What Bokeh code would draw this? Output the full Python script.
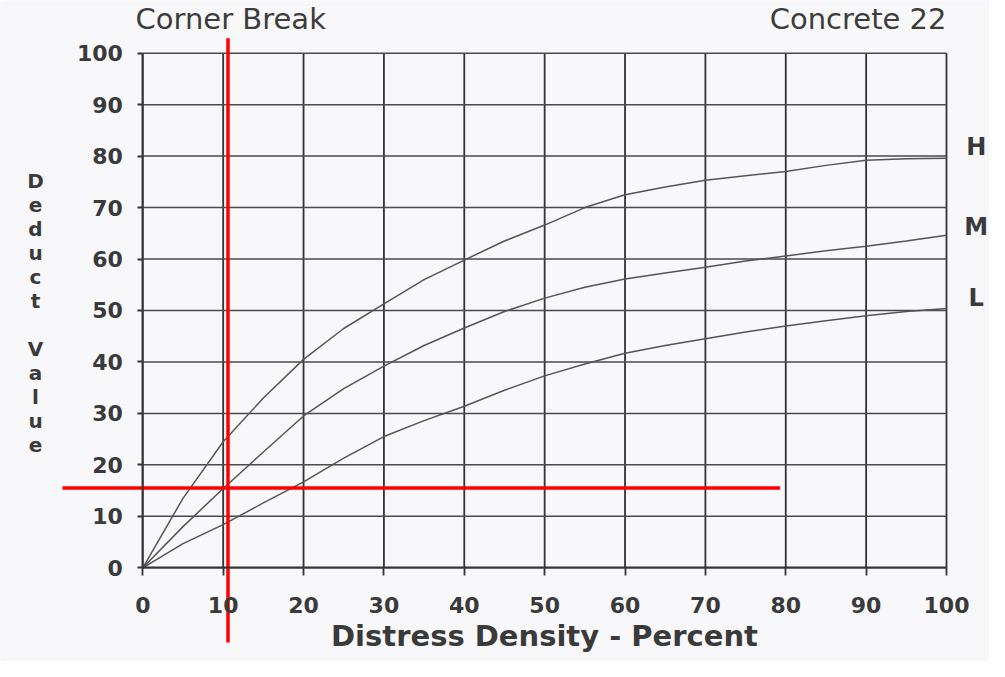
from bokeh.plotting import figure
from bokeh.models import Range1d, LinearAxis, FixedTicker, Label
from bokeh.embed import file_html
from bokeh.resources import INLINE

# ---- data ----
density = [0, 5, 10, 15, 20, 25, 30, 35, 40, 45, 50, 55, 60, 65, 70, 75, 80, 85, 90, 95, 100]
deduct_H = [0, 13.5, 24.5, 33, 40.5, 46.5, 51.3, 56, 59.8, 63.5, 66.6, 70, 72.5, 74, 75.3, 76.2, 77, 78.2, 79.2, 79.5, 79.6]
deduct_M = [0, 8, 15.4, 22.5, 29.5, 34.8, 39.2, 43.2, 46.6, 49.8, 52.4, 54.5, 56.1, 57.3, 58.4, 59.6, 60.6, 61.6, 62.5, 63.5, 64.6]
deduct_L = [0, 4.7, 8.4, 12.6, 16.7, 21.3, 25.5, 28.6, 31.4, 34.5, 37.3, 39.6, 41.7, 43.2, 44.5, 45.8, 47, 48, 49, 49.8, 50.4]
severity_labels = ["H", "M", "L"]
x_ticks = [0, 10, 20, 30, 40, 50, 60, 70, 80, 90, 100]
y_ticks = [0, 10, 20, 30, 40, 50, 60, 70, 80, 90, 100]
title_left = "Corner Break"
title_right = "Concrete 22"
x_label = "Distress Density - Percent"
y_label = "Deduct Value"

# reading lines (red cross-hair)
read_x = 10.6
read_y = 15.5

FONT = "DejaVu Sans"
INK = "#3a3a3a"

p = figure(width=989, height=661, output_backend="svg", toolbar_location=None,
           x_range=Range1d(-17.706, 105.35), y_range=Range1d(-18.21, 110.24),
           x_axis_type=None, y_axis_type=None, title=None, min_border=0)
p.outline_line_color = None
p.background_fill_color = "#f8f8fa"
p.border_fill_color = "#f8f8fa"

x_lo, x_hi = x_ticks[0], x_ticks[-1]
y_lo, y_hi = y_ticks[0], y_ticks[-1]

# grid lines limited to the chart box
p.segment(x0=x_ticks, y0=[y_lo] * len(x_ticks), x1=x_ticks, y1=[y_hi] * len(x_ticks),
          line_color="#333333", line_width=1.8)
p.segment(x0=[x_lo] * len(y_ticks), y0=y_ticks, x1=[x_hi] * len(y_ticks), y1=y_ticks,
          line_color="#4a4a4a", line_width=1.5)

# axes placed at data 0
xaxis = LinearAxis(fixed_location=0, bounds=(x_lo, x_hi), ticker=FixedTicker(ticks=x_ticks),
                   axis_label=x_label)
yaxis = LinearAxis(fixed_location=0, bounds=(y_lo, y_hi), ticker=FixedTicker(ticks=y_ticks))
for ax in (xaxis, yaxis):
    ax.axis_line_color = "#333333"
    ax.axis_line_width = 1.8
    ax.major_tick_line_color = "#333333"
    ax.major_tick_line_width = 1.8
    ax.major_tick_in = 0
    ax.minor_tick_line_color = None
    ax.major_label_text_font = FONT
    ax.major_label_text_font_style = "bold"
    ax.major_label_text_font_size = "22px"
    ax.major_label_text_color = INK
xaxis.major_tick_out = 8
xaxis.major_label_standoff = 21
xaxis.axis_label_text_font = FONT
xaxis.axis_label_text_font_style = "bold"
xaxis.axis_label_text_font_size = "29px"
xaxis.axis_label_text_color = INK
xaxis.axis_label_standoff = 3
yaxis.major_tick_out = 5
yaxis.major_label_standoff = 15
p.add_layout(xaxis, "below")
p.add_layout(yaxis, "left")

# curves
for ys in (deduct_H, deduct_M, deduct_L):
    p.line(density, ys, line_color="#555555", line_width=1.5)

# severity labels at the right ends
for name, yy in zip(severity_labels, [81.7, 66.3, 52.5]):
    p.add_layout(Label(x=103.7, y=yy, text=name, text_align="center", text_baseline="middle",
                       text_font=FONT, text_font_style="bold", text_font_size="24px",
                       text_color=INK))

# titles
p.add_layout(Label(x=-0.9, y=106.7, text=title_left, text_align="left", text_baseline="alphabetic",
                   text_font=FONT, text_font_size="29px", text_color="#3c3c3c"))
p.add_layout(Label(x=100, y=106.7, text=title_right, text_align="right", text_baseline="alphabetic",
                   text_font=FONT, text_font_size="29px", text_color="#3c3c3c"))

# stacked y label
stacked = "\n\n".join("\n".join(word) for word in y_label.split(" "))
p.add_layout(Label(x=-13.35, y=77.5, text=stacked, text_align="center", text_baseline="top",
                   text_font=FONT, text_font_style="bold", text_font_size="20px",
                   text_line_height=1.0, text_color=INK))

# red reading lines
p.segment(x0=[read_x, -10.0], y0=[-14.5, read_y], x1=[read_x, 79.3], y1=[102.9, read_y],
          line_color="#ff0000", line_width=3.5)

open("out.html", "w").write(file_html(p, INLINE))
